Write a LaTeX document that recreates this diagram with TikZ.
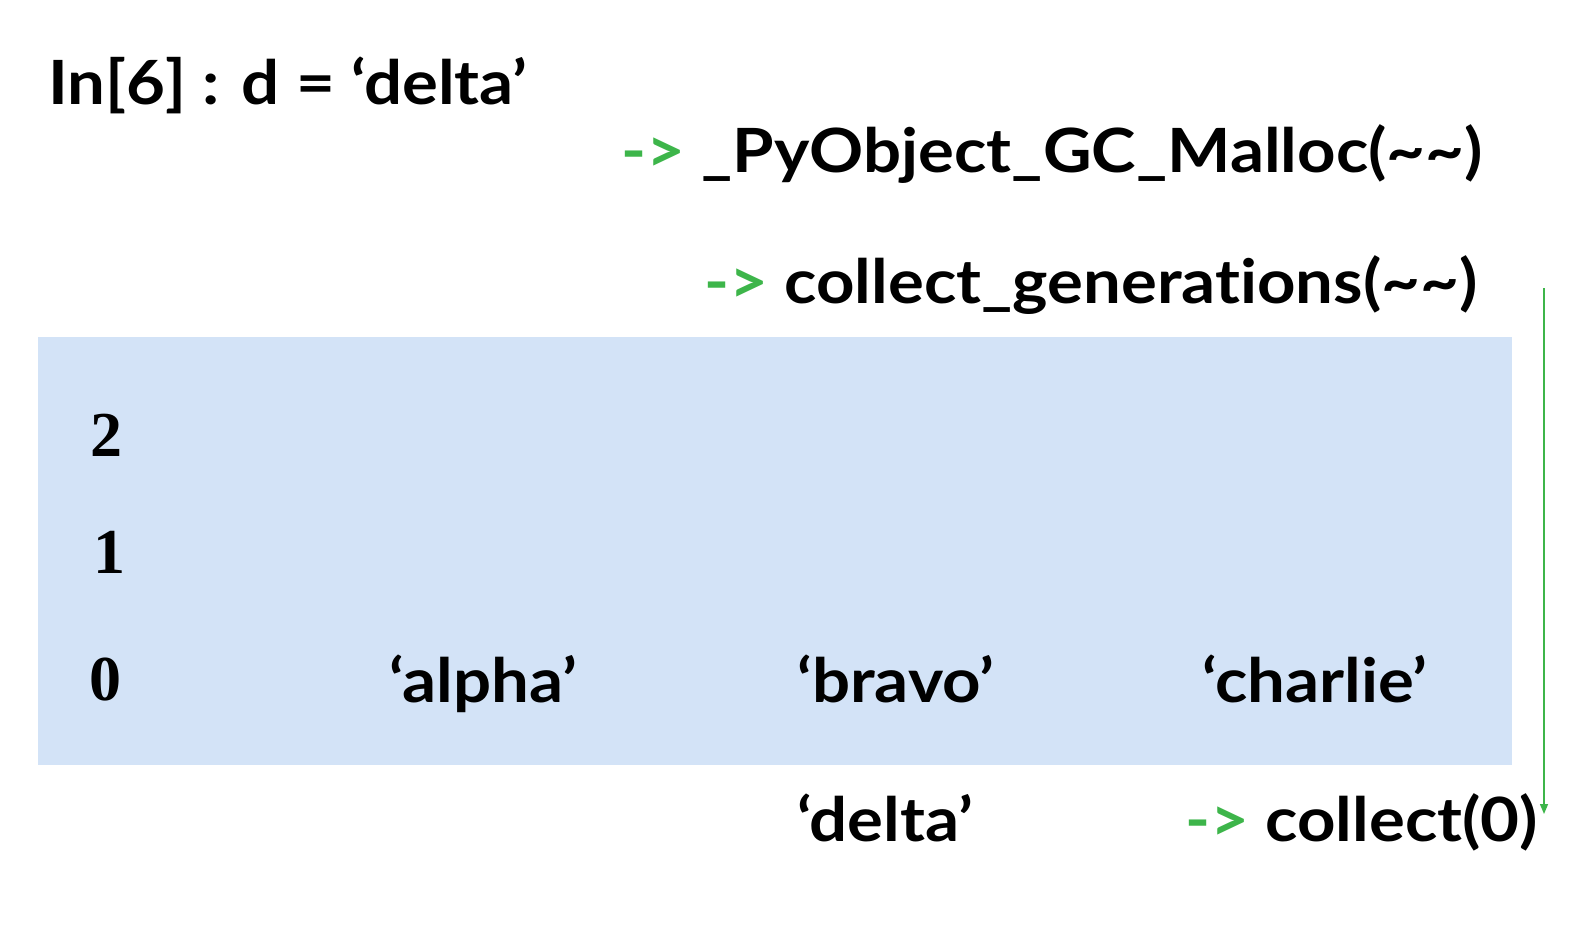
\documentclass[tikz,border=0pt]{standalone}
\usepackage{fontspec}
\setmainfont{Lato}[BoldFont={Lato Bold}, FakeStretch=1.1, Ligatures=NoCommon]
\newfontfamily\numfont{Liberation Serif}
\usetikzlibrary{arrows.meta}
\definecolor{gcgreen}{RGB}{61,181,74}
\definecolor{genblue}{RGB}{211,227,247}
\tikzset{
  big/.style={anchor=base west, inner sep=0pt, font=\fontsize{61}{63}\selectfont\bfseries},
  num/.style={anchor=base west, inner sep=0pt, font=\fontsize{64}{66}\selectfont\numfont\bfseries},
}
\newcommand{\gar}{\textcolor{gcgreen}{->}}
\begin{document}
\begin{tikzpicture}[x=1pt,y=-1pt]
\useasboundingbox (0,0) rectangle (1584,942);
\fill[genblue] (38,337) rectangle (1512,765);
\node[big] (title) at (48,104) {In[6] : d = ‘delta’};
\node[big] (malloc) at (621,172) {\gar{} \_PyObject\_GC\_Malloc(\textasciitilde\textasciitilde)};
\node[big] (cgen) at (704,303) {\gar{} collect\_generations(\textasciitilde\textasciitilde)};
\node[num] (g2) at (90,456) {2};
\node[num] (g1) at (93,573) {1};
\node[num] (g0) at (89,700) {0};
\node[big] (alpha) at (389,702) {‘alpha’};
\node[big] (bravo) at (797,702) {‘bravo’};
\node[big] (charlie) at (1202,702) {‘charlie’};
\node[big] (delta) at (797,841) {‘delta’};
\node[big] (coll) at (1185,841) {\gar{} collect(0)};
\coordinate (atop) at (1544,288);
\coordinate (abot) at (1544,814);
\draw[gcgreen, line width=1.5pt, -{Triangle[length=10pt,width=8pt]}] (atop) -- (abot);
\end{tikzpicture}
\end{document}
